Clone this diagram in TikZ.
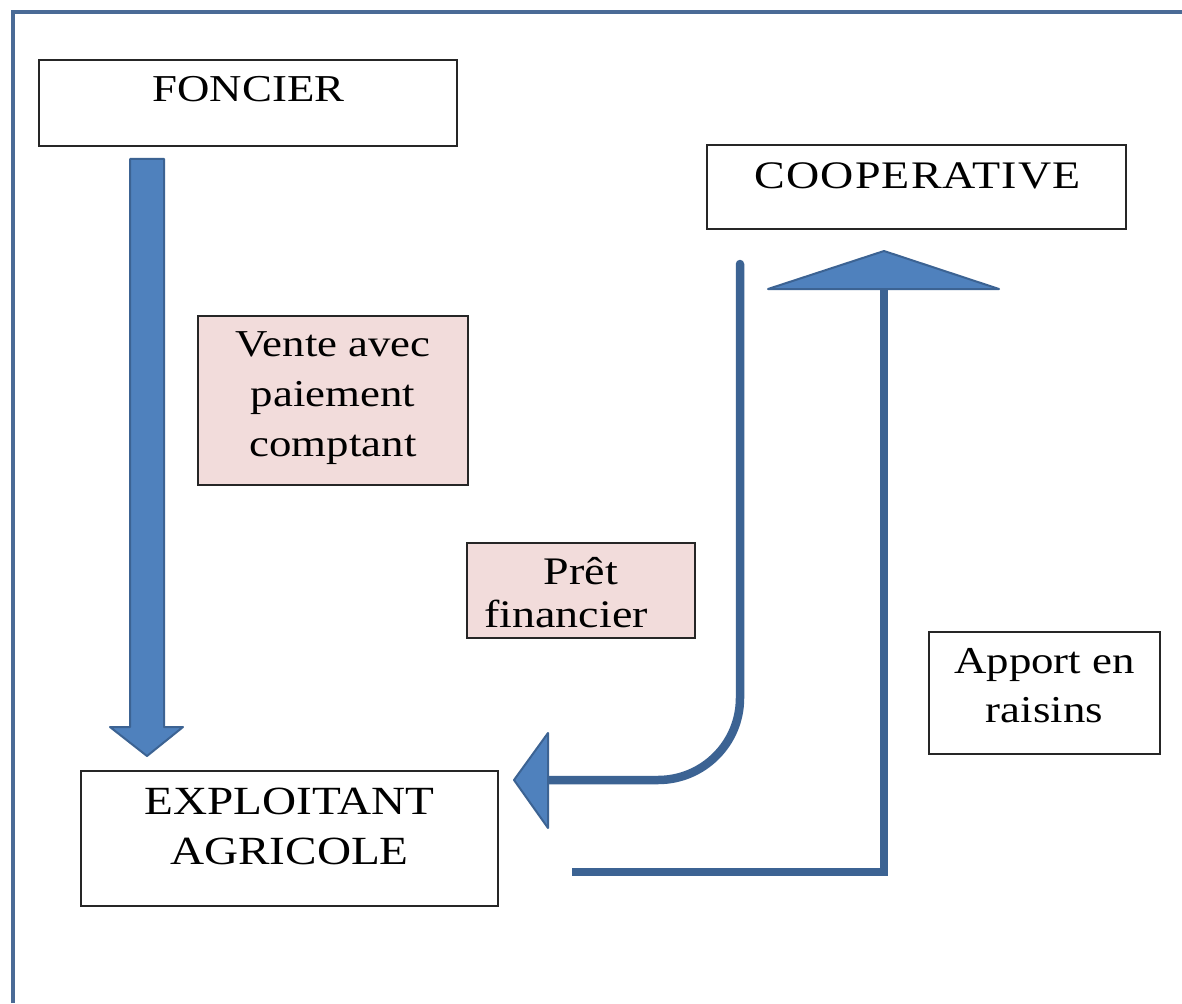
\documentclass[tikz,border=0pt]{standalone}
\usepackage{fontspec}
\setmainfont{Liberation Serif}[FakeStretch=1.18]
\usetikzlibrary{calc}
\definecolor{frameblue}{HTML}{4A6B96}
\definecolor{flowblue}{HTML}{3C6393}
\definecolor{headfill}{HTML}{4F81BD}
\definecolor{pinkfill}{HTML}{F2DCDB}
\tikzset{
  box/.style={draw=black!85, line width=1.6pt, fill=white, inner sep=0pt},
  pinkbox/.style={box, fill=pinkfill},
  lbl/.style={inner sep=0pt, align=center, text=black},
  flow/.style={draw=flowblue, line width=8.5pt},
  head/.style={fill=headfill, draw=flowblue, line width=2pt, line join=round},
  frame/.style={draw=frameblue, line width=4pt}
}
\begin{document}
\begin{tikzpicture}[x=1pt,y=-1pt]
\useasboundingbox (0,0) rectangle (1182,1003);
\fill[white] (0,0) rectangle (1182,1003);
% outer frame (only top and left visible)
\draw[frame] (12.5,1003) -- (12.5,12.5) -- (1182,12.5);

% boxes
\node[box, minimum width=418, minimum height=86] (foncier) at (248,103) {};
\node[lbl, anchor=base, font=\fontsize{38}{48}\selectfont] (foncierT) at (248.5,102) {FONCIER};

\node[box, minimum width=419, minimum height=84] (coop) at (916.5,187) {};
\node[lbl, anchor=base, font=\fontsize{39}{48}\selectfont] (coopT) at (917.5,188) {\addfontfeature{LetterSpace=3}COOPERATIVE};

\node[pinkbox, minimum width=270, minimum height=169] (vente) at (333,400.5) {};
\node[lbl, font=\fontsize{38}{50}\selectfont] (venteT) at (333,398.5) {Vente avec\\paiement\\comptant};

\node[pinkbox, minimum width=228, minimum height=95] (pret) at (581,590.5) {};
\node[lbl, font=\fontsize{39}{43}\selectfont] (pretT) at (581,593) {Prêt\\financier\hspace*{30pt}};

\node[box, minimum width=231, minimum height=122] (apport) at (1044.5,693) {};
\node[lbl, font=\fontsize{38}{49}\selectfont] (apportT) at (1044.5,686) {Apport en\\raisins};

\node[box, minimum width=417, minimum height=135] (expl) at (289.5,838.5) {};
\node[lbl, font=\fontsize{40}{50}\selectfont] (explT) at (289.5,826.5) {EXPLOITANT\\AGRICOLE};

% down block arrow FONCIER -> EXPLOITANT
\coordinate (dTop) at (147,159);
\coordinate (dTip) at (147,756);
\filldraw[head] ($(dTop)+(-17,0)$) -- ($(dTop)+(17,0)$) -- ($(dTip)+(17,-29)$) -- ($(dTip)+(36,-29)$)
  -- (dTip) -- ($(dTip)+(-37,-29)$) -- ($(dTip)+(-17,-29)$) -- cycle;

% Pret financier: COOPERATIVE -> EXPLOITANT
\coordinate (pStart) at (740,264);
\coordinate (pEnd) at (548,780);
\draw[flow, line cap=round, rounded corners=82] (pStart) |- (pEnd);
\filldraw[head] ($(pEnd)+(0,-47)$) -- ($(pEnd)+(-34,0)$) -- ($(pEnd)+(0,48)$) -- cycle;

% Apport en raisins: EXPLOITANT -> COOPERATIVE
\coordinate (aStart) at (572,872);
\coordinate (aEnd) at (884,289);
\draw[flow] (aStart) -| (aEnd);
\filldraw[head] ($(aEnd)+(-116,0)$) -- ($(aEnd)+(0,-38)$) -- ($(aEnd)+(115,0)$) -- cycle;
\end{tikzpicture}
\end{document}
